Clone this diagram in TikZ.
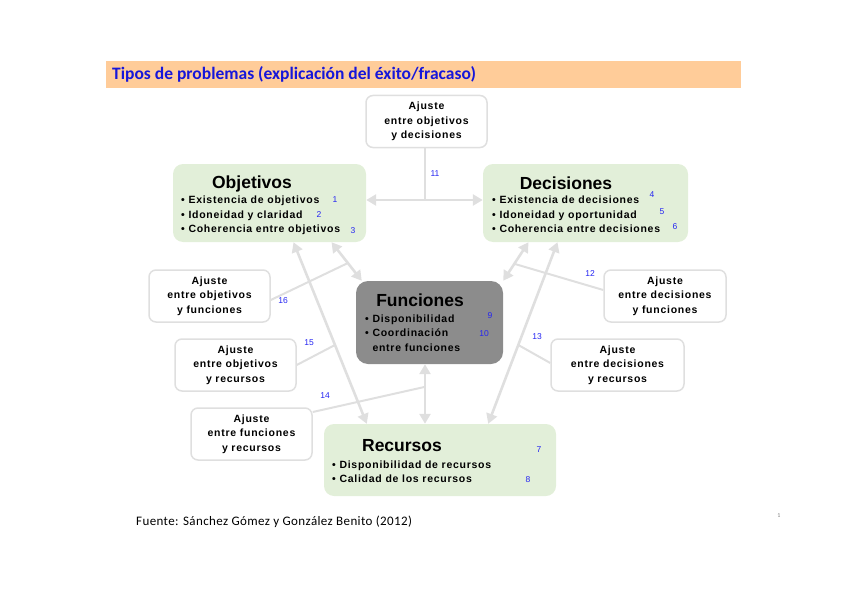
\documentclass[tikz,border=0pt]{standalone}
\usepackage{fontspec}
\setmainfont{Liberation Sans}
\newfontfamily\calibri{Carlito}
\newfontfamily\sourcefont[LetterSpace=3]{Carlito}
\newfontfamily\widefont[LetterSpace=7]{Liberation Sans}
\usetikzlibrary{arrows.meta}
\definecolor{barorange}{HTML}{FFCC99}
\definecolor{boxgreen}{HTML}{E2EFD9}
\definecolor{boxgray}{HTML}{8C8C8C}
\definecolor{linegray}{HTML}{DFDFDF}
\definecolor{numblue}{HTML}{2424F2}
\definecolor{titleblue}{HTML}{1616DA}
\begin{document}
\begin{tikzpicture}[x=1pt, y=-1pt,
  ajuste/.style={draw=linegray, line width=1.5pt, rounded corners=7pt, fill=white, align=center, inner sep=0pt, minimum height=52pt, font=\widefont\bfseries\fontsize{10.5}{14.5}\selectfont},
  greenbox/.style={fill=boxgreen, rounded corners=10pt, inner sep=0pt},
  graybox/.style={fill=boxgray, rounded corners=12pt, inner sep=0pt},
  boxtitle/.style={font=\bfseries\fontsize{17.5}{19}\selectfont, inner sep=0pt},
  bullets/.style={align=left, anchor=west, inner sep=0pt, font=\widefont\bfseries\fontsize{10.5}{14.5}\selectfont},
  num/.style={text=numblue, inner sep=0pt, font=\fontsize{8.5}{9}\selectfont},
  biarrow/.style={draw=linegray, line width=2.6pt, {Triangle[width=11pt,length=10pt]}-{Triangle[width=11pt,length=10pt]}},
  link/.style={draw=linegray, line width=2pt}]
\useasboundingbox (0,0) rectangle (848,599);

\node[fill=barorange, minimum width=635pt, minimum height=27pt, inner sep=0pt] (bar) at (423.5,74.5) {};
\node[anchor=west, text=titleblue, inner sep=0pt, font=\calibri\bfseries\fontsize{17.5}{19}\selectfont] (bartext) at (112,74.5) {Tipos de problemas (explicación del éxito/fracaso)};

\node[greenbox, minimum width=193pt, minimum height=78pt] (obj) at (269.5,203) {};
\node[greenbox, minimum width=205pt, minimum height=78pt] (dec) at (585.5,203) {};
\node[graybox, minimum width=147pt, minimum height=83pt] (fun) at (429.5,322.5) {};
\node[greenbox, minimum width=232pt, minimum height=72pt] (rec) at (440,460) {};

\node[boxtitle] (objT) at (252,184) {Objetivos};
\node[bullets] (objL) at (181,215.5) {• Existencia de objetivos\\• Idoneidad y claridad\\• Coherencia entre objetivos};
\node[boxtitle] (decT) at (566,183) {Decisiones};
\node[bullets] (decL) at (492,214.5) {• Existencia de decisiones\\• Idoneidad y oportunidad\\• Coherencia entre decisiones};
\node[boxtitle] (funT) at (420,300) {Funciones};
\node[bullets] (funL) at (365,333) {• Disponibilidad\\• Coordinación\\\phantom{• }entre funciones};
\node[boxtitle] (recT) at (402,446) {Recursos};
\node[bullets] (recL) at (332,471.5) {• Disponibilidad de recursos\\• Calidad de los recursos};

\node[num] (n1) at (335,200) {1};
\node[num] (n2) at (319,215) {2};
\node[num] (n3) at (353,231) {3};
\node[num] (n4) at (652,195) {4};
\node[num] (n5) at (662,212) {5};
\node[num] (n6) at (675,227) {6};
\node[num] (n7) at (539,450) {7};
\node[num] (n8) at (528,480) {8};
\node[num] (n9) at (490,316) {9};
\node[num] (n10) at (484,334) {10};

\node[ajuste, minimum width=121pt] (ajOD) at (426.5,121.5) {Ajuste\\entre objetivos\\y decisiones};
\node[ajuste, minimum width=121pt] (ajOF) at (209.5,296) {Ajuste\\entre objetivos\\y funciones};
\node[ajuste, minimum width=121pt] (ajOR) at (235.5,365) {Ajuste\\entre objetivos\\y recursos};
\node[ajuste, minimum width=121pt] (ajFR) at (251.5,434) {Ajuste\\entre funciones\\y recursos};
\node[ajuste, minimum width=122pt] (ajDF) at (665,296) {Ajuste\\entre decisiones\\y funciones};
\node[ajuste, minimum width=133pt] (ajDR) at (617.5,365) {Ajuste\\entre decisiones\\y recursos};

\draw[biarrow] ([yshift=3]obj.east) -- coordinate[pos=0.5] (m11) ([yshift=3]dec.west);
\draw[biarrow] ([xshift=62]obj.south) -- coordinate[pos=0.54] (m16) ([xshift=6]fun.north west);
\draw[biarrow] ([xshift=24]obj.south) -- coordinate[pos=0.566] (m15) ([xshift=43]rec.north west);
\draw[biarrow] ([xshift=-57]dec.south) -- coordinate[pos=0.56] (m12) (fun.north east);
\draw[biarrow] ([xshift=-28]dec.south) -- coordinate[pos=0.566] (m13) ([xshift=-68]rec.north east);
\draw[biarrow] ([xshift=-4.5]fun.south) -- coordinate[pos=0.38] (m14) ([xshift=-15]rec.north);

\draw[link] (m11) -- (m11 |- ajOD.south);
\draw[link] ([yshift=-4]ajOF.east) -- (m16);
\draw[link] (ajOR.east) -- (m15);
\draw[link] ([yshift=22]ajFR.east) -- (m14);
\draw[link] ([yshift=6]ajDF.west) -- (m12);
\draw[link] ([yshift=2]ajDR.west) -- (m13);

\node[num] (l11) at (435,174) {11};
\node[num] (l16) at (283,301) {16};
\node[num] (l15) at (309,343) {15};
\node[num] (l14) at (325,396) {14};
\node[num] (l12) at (590,274) {12};
\node[num] (l13) at (537,337) {13};

\node[anchor=west, inner sep=0pt, font=\sourcefont\fontsize{13}{15}\selectfont] (src) at (136,522) {Fuente: Sánchez Gómez y González Benito (2012)};
\node[inner sep=0pt, text=gray, font=\calibri\fontsize{6}{7}\selectfont] (page) at (779,516) {1};
\end{tikzpicture}
\end{document}
